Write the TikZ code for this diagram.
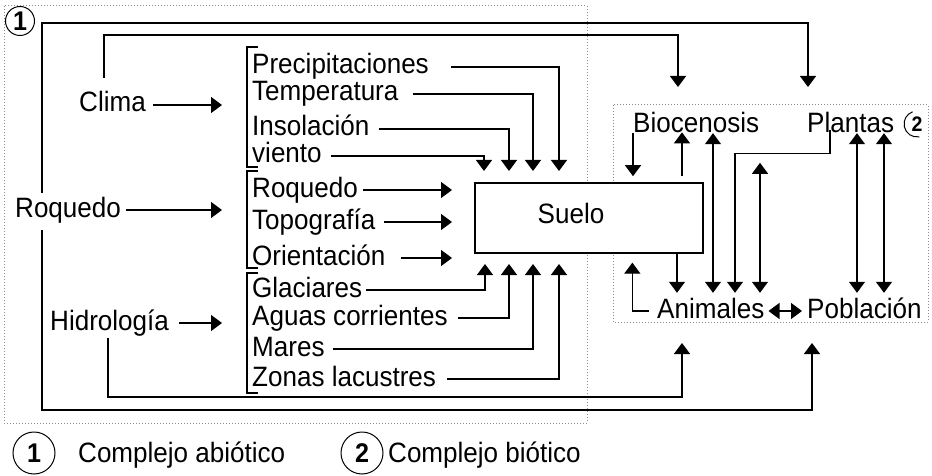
\documentclass[tikz,border=0pt]{standalone}
\usepackage{fontspec}
\setmainfont[FakeStretch=0.93]{Liberation Sans}
\usetikzlibrary{arrows.meta,calc}
\begin{document}
\begin{tikzpicture}[x=1pt,y=-1pt,
  every node/.style={font=\fontsize{28}{32}\selectfont},
  lab/.style={inner sep=0pt,text height=14pt,text depth=0pt,anchor=west},
  ln/.style={line width=1.3pt},
  arr/.style={ln,-{Triangle[length=11pt,width=16pt]}},
  darr/.style={ln,{Triangle[length=11pt,width=16pt]}-{Triangle[length=11pt,width=16pt]}},
  dotbox/.style={draw=black!45,dotted,line width=1pt},
  brk/.style={line width=1.1pt},
  circ/.style={circle,draw,line width=1pt,inner sep=0pt,font=\fontsize{27}{27}\selectfont\bfseries}
]
\useasboundingbox (0,0) rectangle (932,476);
% dotted frames
\draw[dotbox] (4,6) rectangle (587,423);
\draw[dotbox] (613,105) rectangle (928,322);
\node[circ,fill=white,minimum size=29pt] (n1) at (20,21) {1};
\node[font=\fontsize{21}{21}\selectfont\bfseries,inner sep=0pt] (n2) at (917,124) {2};
\draw[line width=1pt] ($(n2.center)+(2.3,12.8)$) arc[start angle=80,end angle=250,radius=13];

% left labels
\node[lab] (clima) at (79,105) {Clima};
\node[lab] (roq) at (15,210) {Roquedo};
\node[lab] (hidro) at (50,323) {Hidrología};
\coordinate (bA) at (222,105);
\coordinate (bB) at (222,210);
\coordinate (bC) at (222,323);
\draw[arr] ([xshift=7pt]clima.east) -- (bA);
\draw[arr] ([xshift=5pt]roq.east) -- (bB);
\draw[arr] ([xshift=10pt]hidro.east) -- (bC);

% brackets
\draw[brk] (258,47) -- (247,47) -- (247,167) -- (258,167);
\draw[brk] (258,171) -- (247,171) -- (247,268) -- (258,268);
\draw[brk] (258,273) -- (247,273) -- (247,393) -- (258,393);

% factor labels
\node[lab] (pre) at (252,67) {Precipitaciones};
\node[lab] (tem) at (252,94) {Temperatura};
\node[lab] (ins) at (252,129) {Insolación};
\node[lab] (vie) at (252,156) {viento};
\node[lab] (roq2) at (252,190) {Roquedo};
\node[lab] (topo) at (252,222) {Topografía};
\node[lab] (ori) at (252,258) {Orientación};
\node[lab] (gla) at (252,290) {Glaciares};
\node[lab] (agu) at (252,318) {Aguas corrientes};
\node[lab] (mar) at (252,349) {Mares};
\node[lab] (zon) at (252,379) {Zonas lacustres};

% Suelo
\node[draw,ln,fill=white,minimum width=228pt,minimum height=70pt,inner sep=0pt,
      text height=20pt,text depth=10pt] (suelo) at (589,218) {Suelo\hspace*{36pt}};

% arrows into Suelo top
\coordinate (s1) at (484,171);
\coordinate (s2) at (509,171);
\coordinate (s3) at (533,171);
\coordinate (s4) at (559,171);
\draw[arr] ([xshift=9pt]vie.east) -| (s1);
\draw[arr] ([xshift=9pt]ins.east) -| (s2);
\draw[arr] ([xshift=14pt]tem.east) -| (s3);
\draw[arr] ([xshift=22pt]pre.east) -| (s4);

% arrows into Suelo left
\coordinate (l1) at (452,190);
\coordinate (l2) at (452,222);
\coordinate (l3) at (452,258);
\draw[arr] ([xshift=5pt]roq2.east) -- (l1);
\draw[arr] ([xshift=9pt]topo.east) -- (l2);
\draw[arr] ([xshift=15pt]ori.east) -- (l3);

% arrows into Suelo bottom
\coordinate (b1) at (485,264);
\coordinate (b2) at (509,264);
\coordinate (b3) at (533,264);
\coordinate (b4) at (559,264);
\draw[arr] ([xshift=4pt]gla.east) -| (b1);
\draw[arr] ([xshift=10pt]agu.east) -| (b2);
\draw[arr] ([xshift=8pt]mar.east) -| (b3);
\draw[arr] ([xshift=11pt]zon.east) -| (b4);

% right labels
\node[lab] (bio) at (633,126) {Biocenosis};
\node[lab] (pla) at (807,126) {Plantas};
\node[lab] (ani) at (657,311) {Animales};
\node[lab] (pob) at (807,311) {Población};

% big loops
\coordinate (r1) at (42,193);
\coordinate (r2) at (42,230);
\coordinate (c1) at (104,78);
\coordinate (h1) at (108,338);
\coordinate (pIn) at (808,87);
\coordinate (bIn) at (678,87);
\coordinate (aIn) at (682,343);
\coordinate (pbIn) at (812,343);
\draw[arr] (r1) -- (42,23) -| (pIn);
\draw[arr] (c1) -- (104,35) -| (bIn);
\draw[arr] (r2) -- (42,410) -| (pbIn);
\draw[arr] (h1) -- (108,397) -| (aIn);

% biotic relations
\draw[arr] (bio.south west) -- ++(0,43);
\draw[arr] ([xshift=93pt,yshift=6pt]suelo.north) -- ++(0,-44);
\draw[darr] ($(bio.south west)+(80,0)$) -- ($(ani.north west)+(56,-11)$);
\draw[arr] ($(pla.south west)+(23,-3)$) -- ++(0,23) -| ($(ani.north west)+(78,-11)$);
\draw[darr] ($(ani.north west)+(103,-141)$) -- ($(ani.north west)+(103,-11)$);
\draw[arr] ($(suelo.south)+(88,0)$) -- ($(ani.north west)+(20,-11)$);
\draw[arr] ([xshift=-8pt]ani.west) -| ($(suelo.south west)+(158,9)$);
\draw[darr] ([xshift=4pt]ani.east) -- ([xshift=-5pt]pob.west);
\draw[darr] ($(pla.south west)+(50,0)$) -- ($(pob.north west)+(50,-11)$);
\draw[darr] ($(pla.south west)+(77,0)$) -- ($(pob.north west)+(77,-11)$);

% legend
\node[circ,minimum size=42pt] (L1) at (34,453) {1};
\node[lab] (t1) at (78,455) {Complejo abiótico};
\node[circ,minimum size=42pt] (L2) at (362,453) {2};
\node[lab] (t2) at (388,455) {Complejo biótico};
\end{tikzpicture}
\end{document}
